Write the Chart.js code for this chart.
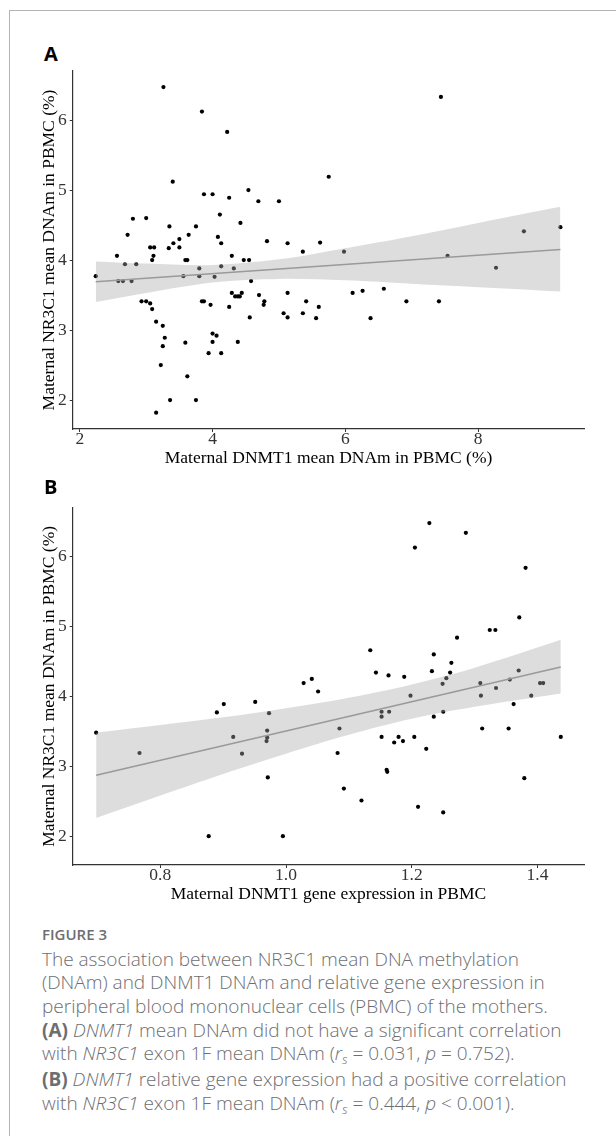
<!DOCTYPE html>
<html>
<head>
<meta charset="utf-8">
<script src="https://cdn.jsdelivr.net/npm/chart.js@4.4.1/dist/chart.umd.min.js"></script>
<style>
    body { margin: 0; width: 616px; height: 1136px; background: #fff; position: relative; overflow: hidden; }
    #frame { position: absolute; left: 9px; top: 10px; width: 700px; height: 1200px; border-left: 1px solid #b4b4b4; border-top: 1px solid #b4b4b4; }
    canvas { position: absolute; left: 0; }
    .letter { position: absolute; left: 44px; font: bold 20px "Open Sans", Arial, sans-serif; line-height: 20px; color: #000; }
    #fig { position: absolute; left: 42px; top: 926.7px; font: 600 15px "Open Sans", sans-serif; line-height: 15px; color: #6d6e71; }
    #caption { position: absolute; left: 42px; top: 947.5px; font: 300 19px "Open Sans", sans-serif; line-height: 23.7px; color: #6d6e71; white-space: nowrap; }
    #caption b { font-weight: 700; }
    .sub { font-size: 13px; position: relative; top: 4px; }
</style>
</head>
<body>
<div id="frame"></div>
<div class="letter" style="top:44px">A</div>
<canvas id="chartA" width="616" height="480" style="top:0"></canvas>
<div class="letter" style="top:477.3px">B</div>
<canvas id="chartB" width="616" height="456" style="top:460px"></canvas>
<div id="fig">FIGURE 3</div>
<div id="caption">
<div>The association between NR3C1 mean DNA methylation</div>
<div>(DNAm) and DNMT1 DNAm and relative gene expression in</div>
<div>peripheral blood mononuclear cells (PBMC) of the mothers.</div>
<div><b>(A)</b> <i>DNMT1</i> mean DNAm did not have a significant correlation</div>
<div>with <i>NR3C1</i> exon 1F mean DNAm (<i>r<span class="sub">s</span></i> = 0.031, <i>p</i> = 0.752).</div>
<div><b>(B)</b> <i>DNMT1</i> relative gene expression had a positive correlation</div>
<div>with <i>NR3C1</i> exon 1F mean DNAm (<i>r<span class="sub">s</span></i> = 0.444, <i>p</i> &lt; 0.001).</div>
</div>
<script>
// panel A: DNMT1 DNAm vs NR3C1 DNAm
const dnmt1DnamA = [2.24, 2.56, 2.58, 2.65, 2.68, 2.72, 2.78, 2.80, 2.85, 2.93,
    3.00, 3.00, 3.06, 3.06, 3.09, 3.09, 3.11, 3.12, 3.15, 3.15,
    3.22, 3.25, 3.25, 3.26, 3.28, 3.34, 3.35, 3.36, 3.40, 3.41,
    3.50, 3.50, 3.56, 3.59, 3.59, 3.62, 3.62, 3.64, 3.75, 3.75,
    3.80, 3.80, 3.84, 3.84, 3.87, 3.87, 3.94, 3.97, 4.00, 4.00,
    4.00, 4.03, 4.06, 4.08, 4.11, 4.13, 4.13, 4.13, 4.22, 4.25,
    4.25, 4.29, 4.29, 4.32, 4.34, 4.38, 4.38, 4.41, 4.42, 4.44,
    4.47, 4.54, 4.55, 4.56, 4.58, 4.69, 4.70, 4.77, 4.78, 4.82,
    5.00, 5.07, 5.13, 5.13, 5.13, 5.36, 5.36, 5.41, 5.56, 5.60,
    5.62, 5.75, 5.98, 6.11, 6.26, 6.38, 6.58, 6.92, 7.41, 7.44,
    7.54, 8.27, 8.69, 9.24];
const nr3c1DnamA = [3.77, 4.06, 3.70, 3.70, 3.94, 4.36, 3.70, 4.59, 3.94, 3.41,
    3.41, 4.60, 3.38, 4.18, 3.30, 4.00, 4.06, 4.18, 3.12, 1.82,
    2.50, 3.06, 2.77, 6.47, 2.89, 4.17, 4.48, 2.00, 5.12, 4.24,
    4.18, 4.30, 3.77, 4.00, 2.82, 4.00, 2.34, 4.36, 4.48, 2.00,
    3.88, 3.77, 6.12, 3.41, 3.41, 4.94, 2.67, 3.36, 4.94, 2.95,
    2.83, 3.76, 2.92, 4.33, 4.65, 4.24, 3.91, 2.67, 5.83, 4.89,
    3.33, 4.06, 3.53, 3.88, 3.48, 3.48, 2.83, 3.48, 4.53, 3.53,
    4.00, 5.00, 4.00, 3.18, 3.70, 4.84, 3.50, 3.36, 3.41, 4.27,
    4.84, 3.24, 4.24, 3.53, 3.18, 4.12, 3.24, 3.41, 3.17, 3.33,
    4.25, 5.19, 4.12, 3.53, 3.56, 3.17, 3.59, 3.41, 3.41, 6.33,
    4.06, 3.89, 4.41, 4.47];
const fitXA = [2.24, 9.24];
const fitYA = [3.69, 4.15];
const bandXA = [2.24, 3, 4, 5, 6, 7, 8, 9.24];
const bandHighA = [3.98, 3.95, 3.93, 4.01, 4.17, 4.34, 4.53, 4.76];
const bandLowA = [3.40, 3.53, 3.68, 3.73, 3.71, 3.66, 3.61, 3.55];
const xTicksA = [2, 4, 6, 8];

// panel B: DNMT1 expression vs NR3C1 DNAm
const dnmt1ExprB = [0.698, 0.767, 0.877, 0.890, 0.901, 0.916, 0.930, 0.951, 0.970, 0.970,
    0.969, 0.973, 0.971, 0.995, 1.028, 1.041, 1.051, 1.085, 1.082, 1.092,
    1.120, 1.134, 1.143, 1.163, 1.188, 1.152, 1.152, 1.164, 1.152, 1.172,
    1.179, 1.186, 1.160, 1.161, 1.198, 1.204, 1.205, 1.228, 1.286, 1.210,
    1.223, 1.232, 1.235, 1.235, 1.249, 1.250, 1.250, 1.255, 1.261, 1.263,
    1.272, 1.309, 1.310, 1.312, 1.324, 1.333, 1.334, 1.354, 1.356, 1.362,
    1.370, 1.371, 1.379, 1.381, 1.390, 1.404, 1.409, 1.437];
const nr3c1DnamB = [3.48, 3.19, 2.00, 3.77, 3.89, 3.42, 3.18, 3.92, 3.51, 3.41,
    3.36, 3.76, 2.84, 2.00, 4.19, 4.25, 4.07, 3.54, 3.19, 2.68,
    2.51, 4.66, 4.34, 4.30, 4.28, 3.78, 3.71, 3.78, 3.42, 3.34,
    3.42, 3.36, 2.95, 2.92, 4.01, 3.42, 6.13, 6.48, 6.34, 2.42,
    3.25, 4.36, 4.60, 3.71, 4.18, 3.78, 2.34, 4.26, 4.34, 4.48,
    4.84, 4.19, 4.01, 3.54, 4.95, 4.95, 4.12, 3.54, 4.24, 3.89,
    4.37, 5.13, 2.83, 5.84, 4.01, 4.19, 4.19, 3.42];
const fitXB = [0.698, 1.437];
const fitYB = [2.87, 4.42];
const bandXB = [0.698, 0.8, 0.9, 1.0, 1.1, 1.2, 1.3, 1.437];
const bandHighB = [3.48, 3.59, 3.70, 3.83, 3.98, 4.17, 4.41, 4.81];
const bandLowB = [2.26, 2.58, 2.89, 3.18, 3.45, 3.68, 3.85, 4.04];
const xTicksB = [0.8, 1.0, 1.2, 1.4];

const yTicks = [2, 3, 4, 5, 6];
const yTitle = 'Maternal NR3C1 mean DNAm in PBMC (%)';

const serif = '"Liberation Serif", "Times New Roman", serif';

function toPoints(xs, ys) {
    return xs.map((x, i) => ({x: x, y: ys[i]}));
}

function makeChart(id, p) {
    const ctx = document.getElementById(id).getContext('2d');
    return new Chart(ctx, {
        type: 'scatter',
        data: {
            datasets: [
                { data: toPoints(p.fitX, p.fitY), showLine: true, borderColor: '#9a9a9a', borderWidth: 1.6, pointRadius: 0, order: 1 },
                { data: toPoints(p.bandX, p.bandHigh), showLine: true, borderColor: 'rgba(0,0,0,0)', borderWidth: 0, pointRadius: 0,
                  fill: '+1', backgroundColor: 'rgba(170,170,170,0.4)', tension: 0.35, order: 2 },
                { data: toPoints(p.bandX, p.bandLow), showLine: true, borderColor: 'rgba(0,0,0,0)', borderWidth: 0, pointRadius: 0,
                  fill: false, tension: 0.35, order: 2 },
                { data: toPoints(p.x, p.y), pointRadius: 2.1, pointBackgroundColor: '#000', pointBorderWidth: 0, order: 3 }
            ]
        },
        options: {
            responsive: false,
            animation: false,
            devicePixelRatio: 1,
            layout: { padding: { top: p.top, right: 31.7, left: 0, bottom: 0 } },
            plugins: { legend: { display: false }, tooltip: { enabled: false } },
            scales: {
                x: {
                    type: 'linear', min: p.xMin, max: p.xMax,
                    afterBuildTicks: s => { s.ticks = p.xTicks.map(v => ({value: v})); },
                    afterFit: s => { s.height = 51; },
                    grid: { drawOnChartArea: false, drawTicks: true, tickLength: 3, color: '#333' },
                    border: { color: '#333', width: 1.2 },
                    ticks: { color: '#333', padding: -3.3, font: { family: serif, size: 17.5 }, callback: p.fmt },
                    title: { display: true, text: p.xTitle, color: '#000', font: { family: serif, size: 17.5 }, padding: { top: 0, bottom: 11.5 } }
                },
                y: {
                    type: 'linear', min: 1.587, max: 6.70,
                    afterBuildTicks: s => { s.ticks = yTicks.map(v => ({value: v})); },
                    afterFit: s => { s.width = 72.7; },
                    grid: { drawOnChartArea: false, drawTicks: true, tickLength: 3, color: '#333' },
                    border: { color: '#333', width: 1.2 },
                    ticks: { color: '#333', padding: 3, font: { family: serif, size: 17.5 } },
                    title: { display: true, text: yTitle, color: '#000', font: { family: serif, size: 17.5 }, padding: { top: 39, bottom: 0 } }
                }
            }
        }
    });
}

makeChart('chartA', {
    x: dnmt1DnamA, y: nr3c1DnamA, fitX: fitXA, fitY: fitYA,
    bandX: bandXA, bandHigh: bandHighA, bandLow: bandLowA,
    xMin: 1.893, xMax: 9.6, xTicks: xTicksA, top: 71,
    fmt: v => String(v),
    xTitle: 'Maternal DNMT1 mean DNAm in PBMC (%)'
});

makeChart('chartB', {
    x: dnmt1ExprB, y: nr3c1DnamB, fitX: fitXB, fitY: fitYB,
    bandX: bandXB, bandHigh: bandHighB, bandLow: bandLowB,
    xMin: 0.6607, xMax: 1.4744, xTicks: xTicksB, top: 47.7,
    fmt: v => v.toFixed(1),
    xTitle: 'Maternal DNMT1 gene expression in PBMC'
});
</script>
</body>
</html>
